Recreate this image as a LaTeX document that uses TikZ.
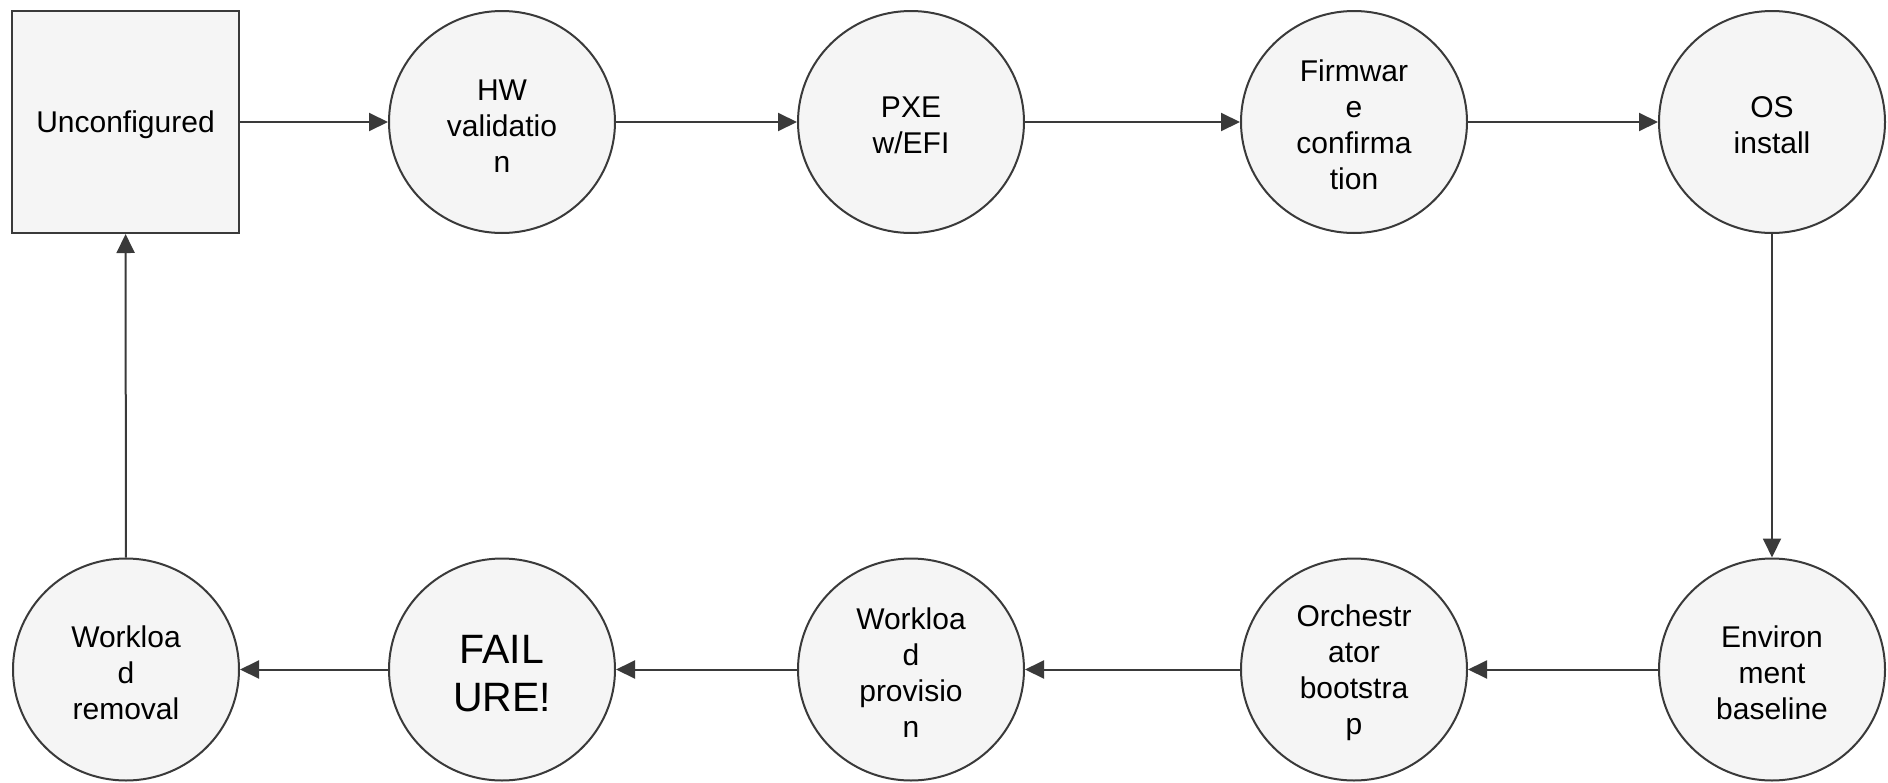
\documentclass[tikz,border=0pt]{standalone}
\usepackage{fontspec}
\setmainfont{Liberation Sans}
\usetikzlibrary{shapes.geometric,arrows.meta}
\definecolor{linegray}{HTML}{3A3A3A}
\definecolor{fillgray}{HTML}{F5F5F5}
\tikzset{
  base/.style={draw=linegray, fill=fillgray, line width=2pt, inner sep=0pt, align=center,
    font=\fontsize{30}{36}\selectfont, text=black},
  statebox/.style={base, rectangle, minimum width=227pt, minimum height=222pt},
  state/.style={base, ellipse, minimum width=226pt, minimum height=222pt},
  bigstate/.style={state, font=\fontsize{41}{48}\selectfont},
  arr/.style={draw=linegray, line width=2pt, -{Triangle[length=19pt,width=18pt]}, color=linegray}
}
\begin{document}
\begin{tikzpicture}[x=1pt,y=-1pt]
\useasboundingbox (0,0) rectangle (1888,782);
\node[statebox] (unc) at (125.5,122) {\rule{0pt}{28pt}Unconfigured};
\node[state] (hw) at (502,122) {\rule{0pt}{28pt}HW\\validatio\\n};
\node[state] (pxe) at (911,122) {\rule{0pt}{28pt}PXE\\w/EFI};
\node[state] (fw) at (1354,122) {\rule{0pt}{28pt}Firmwar\\e\\confirma\\tion};
\node[state] (os) at (1772,122) {\rule{0pt}{28pt}OS\\install};
\node[state] (env) at (1772,669.5) {\rule{0pt}{28pt}Environ\\ment\\baseline};
\node[state] (orch) at (1354,669.5) {\rule{0pt}{28pt}Orchestr\\ator\\bootstra\\p};
\node[state] (wp) at (911,669.5) {\rule{0pt}{28pt}Workloa\\d\\provisio\\n};
\node[bigstate] (fail) at (502,669.5) {\rule{0pt}{37pt}FAIL\\URE!};
\node[state] (wr) at (126,669.5) {\rule{0pt}{28pt}Workloa\\d\\removal};
\draw[arr] (unc) -- (hw);
\draw[arr] (hw) -- (pxe);
\draw[arr] (pxe) -- (fw);
\draw[arr] (fw) -- (os);
\draw[arr] (os) -- (env);
\draw[arr] (env) -- (orch);
\draw[arr] (orch) -- (wp);
\draw[arr] (wp) -- (fail);
\draw[arr] (fail) -- (wr);
\draw[arr] (wr) -- (unc);
\end{tikzpicture}
\end{document}
